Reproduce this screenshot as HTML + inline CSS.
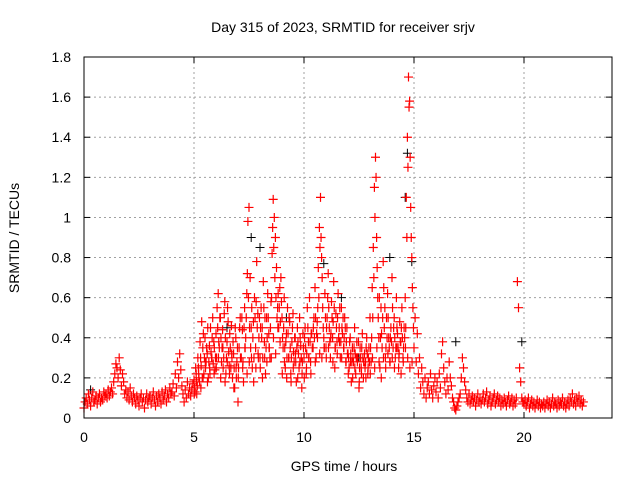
<!DOCTYPE html>
<html><head><meta charset="utf-8"><style>
body{margin:0;background:#fff}
svg text{font-family:"Liberation Sans",sans-serif;font-size:14px;fill:#000}
</style></head><body>
<svg id="chart" width="640" height="480">
<text x="343" y="32" text-anchor="middle">Day 315 of 2023, SRMTID for receiver srjv</text>
<text x="344" y="471" text-anchor="middle">GPS time / hours</text>
<text transform="translate(19,238) rotate(-90)" text-anchor="middle">SRMTID / TECUs</text>
<g id="grid"></g>
<g id="marks"></g>
<g id="axes"></g>
</svg>
<script>
const xTicks=[0,5,10,15,20];
const yTicks=[0,0.2,0.4,0.6,0.8,1,1.2,1.4,1.6,1.8];
const yTickLabels=["0","0.2","0.4","0.6","0.8","1","1.2","1.4","1.6","1.8"];
const redStart=0, redStep=0.05;
const redValues=[
0.05,0.08,0.1,0.07,0.12,0.09,0.06,0.1,0.13,0.08,0.09,0.11,0.07,0.1,0.12,0.08,0.1,0.09,0.13,0.11,
0.12,0.1,0.14,0.11,0.13,0.15,0.12,0.18,0.22,0.27,0.25,0.2,0.3,0.24,0.16,0.22,0.18,0.12,0.14,0.1,
0.13,0.09,0.15,0.11,0.08,0.12,0.1,0.07,0.11,0.09,0.06,0.1,0.12,0.08,0.1,0.05,0.09,0.12,0.08,0.1,
0.11,0.07,0.1,0.13,0.09,0.06,0.11,0.08,0.12,0.1,0.07,0.13,0.09,0.11,0.14,0.08,0.12,0.1,0.15,0.12,
0.13,0.17,0.11,0.22,0.15,0.28,0.2,0.32,0.24,0.16,0.12,0.08,0.14,0.1,0.18,0.12,0.15,0.11,0.14,0.17,
0.19,0.13,0.22,0.16,0.25,0.18,0.3,0.48,0.35,0.22,0.4,0.28,0.32,0.2,0.36,0.45,0.3,0.5,0.38,0.24,
0.42,0.55,0.62,0.35,0.5,0.28,0.44,0.3,0.58,0.22,0.38,0.48,0.26,0.35,0.46,0.2,0.32,0.15,0.4,0.28,
0.08,0.35,0.5,0.3,0.44,0.18,0.55,0.4,0.62,0.98,1.05,0.7,0.45,0.25,0.48,0.6,0.35,0.78,0.52,0.4,
0.3,0.55,0.45,0.68,0.38,0.22,0.5,0.62,0.42,0.3,0.58,0.82,1.09,1.0,0.9,0.75,0.55,0.45,0.65,0.7,
0.5,0.35,0.6,0.25,0.42,0.55,0.3,0.48,0.22,0.38,0.52,0.28,0.4,0.18,0.45,0.32,0.5,0.36,0.15,0.42,
0.3,0.45,0.22,0.55,0.38,0.6,0.28,0.42,0.35,0.5,0.65,0.3,0.48,0.75,0.95,1.1,0.8,0.55,0.4,0.62,
0.35,0.5,0.72,0.45,0.3,0.58,0.4,0.68,0.25,0.52,0.38,0.62,0.45,0.3,0.55,0.42,0.35,0.5,0.28,0.45,
0.32,0.25,0.4,0.18,0.35,0.28,0.45,0.22,0.38,0.3,0.15,0.35,0.25,0.42,0.2,0.32,0.28,0.4,0.22,0.35,
0.5,0.28,0.65,0.85,1.15,1.3,0.9,0.6,0.4,0.25,0.55,0.35,0.78,0.45,0.3,0.5,0.62,0.4,0.28,0.45,
0.7,0.35,0.5,0.3,0.6,0.42,0.25,0.48,0.38,0.55,0.3,0.45,0.6,1.1,1.4,1.7,1.58,1.05,0.8,0.55,
0.35,0.5,0.28,0.42,0.22,0.3,0.15,0.25,0.18,0.12,0.2,0.1,0.15,0.18,0.12,0.22,0.14,0.1,0.16,0.2,
0.13,0.18,0.1,0.22,0.15,0.32,0.38,0.25,0.18,0.12,0.2,0.14,0.28,0.2,0.16,0.1,0.08,0.05,0.04,0.06,
0.08,0.1,0.12,0.2,0.3,0.25,0.18,0.14,0.1,0.08,0.12,0.07,0.09,0.11,0.08,0.1,0.06,0.09,0.12,0.08,
0.1,0.07,0.09,0.12,0.08,0.1,0.13,0.07,0.09,0.11,0.06,0.08,0.1,0.12,0.07,0.09,0.11,0.08,0.1,0.06,
0.09,0.07,0.1,0.08,0.06,0.09,0.11,0.07,0.08,0.1,0.06,0.09,0.07,0.1,0.68,0.55,0.25,0.18,0.1,0.08,
0.07,0.09,0.06,0.08,0.1,0.05,0.07,0.09,0.06,0.08,0.05,0.07,0.09,0.06,0.08,0.05,0.07,0.06,0.08,0.05,
0.07,0.09,0.06,0.08,0.05,0.07,0.1,0.06,0.08,0.07,0.05,0.09,0.06,0.08,0.07,0.1,0.06,0.08,0.05,0.07,
0.09,0.06,0.1,0.08,0.12,0.07,0.09,0.06,0.1,0.08,0.11,0.07,0.09,0.06,0.08];
const redBStart=5.025, redBStep=0.05;
const redBValues=[
0.15,0.25,0.12,0.3,0.2,0.38,0.26,0.2,0.42,0.3,0.25,0.35,0.45,0.28,0.22,0.33,0.4,0.27,0.35,0.3,
0.3,0.45,0.38,0.5,0.4,0.35,0.25,0.52,0.4,0.3,0.55,0.33,0.42,0.25,0.3,0.38,0.25,0.45,0.2,0.35,
0.25,0.45,0.3,0.5,0.28,0.45,0.35,0.5,0.72,0.6,0.45,0.35,0.55,0.4,0.3,0.5,0.58,0.45,0.3,0.5,
0.45,0.4,0.3,0.55,0.5,0.35,0.4,0.5,0.35,0.45,0.6,0.95,0.85,0.7,0.6,0.5,0.62,0.55,0.48,0.58,
0.4,0.45,0.35,0.38,0.3,0.42,0.5,0.35,0.3,0.45,0.33,0.4,0.28,0.35,0.38,0.25,0.4,0.3,0.28,0.35,
0.4,0.35,0.32,0.45,0.3,0.38,0.42,0.35,0.45,0.4,0.5,0.42,0.55,0.6,0.85,0.9,0.7,0.45,0.35,0.5,
0.45,0.6,0.55,0.38,0.42,0.5,0.48,0.55,0.35,0.45,0.5,0.4,0.55,0.38,0.45,0.5,0.4,0.45,0.38,0.32,
0.3,0.38,0.32,0.28,0.3,0.35,0.32,0.3,0.28,0.38,0.25,0.3,0.35,0.3,0.28,0.25,0.35,0.32,0.3,0.28,
0.35,0.4,0.5,0.7,1.0,1.2,0.75,0.5,0.6,0.4,0.42,0.5,0.65,0.55,0.35,0.4,0.5,0.35,0.4,0.38,
0.55,0.45,0.4,0.35,0.45,0.35,0.32,0.38,0.45,0.4,0.35,0.4,0.45,0.9,1.25,1.55,1.3,0.9,0.65,0.45];
const redCStart=5.0125, redCStep=0.1;
const redCValues=[
0.12,0.18,0.22,0.15,0.2,0.28,0.18,0.25,0.3,0.22,
0.25,0.3,0.2,0.35,0.18,0.28,0.22,0.32,0.15,0.25,
0.2,0.3,0.25,0.35,0.22,0.28,0.3,0.18,0.25,0.32,
0.25,0.2,0.3,0.28,0.35,0.3,0.4,0.32,0.45,0.38,
0.22,0.28,0.2,0.3,0.18,0.25,0.32,0.2,0.28,0.22,
0.2,0.25,0.3,0.22,0.35,0.28,0.4,0.32,0.3,0.35,
0.3,0.35,0.4,0.28,0.35,0.32,0.38,0.3,0.35,0.28,
0.22,0.28,0.2,0.25,0.3,0.18,0.22,0.28,0.2,0.25,
0.22,0.3,0.25,0.35,0.28,0.2,0.3,0.25,0.32,0.28,
0.3,0.25,0.35,0.3,0.22,0.28,0.35,0.3,0.25,0.28];
const blackTimes=[0.3,6.5,7.6,8.0,9.2,10.9,11.7,12.5,13.9,14.6,14.7,14.9,16.9,19.9];
const blackValues=[0.14,0.45,0.9,0.85,0.5,0.77,0.6,0.3,0.8,1.1,1.32,0.78,0.38,0.38];

const L=84,R=612,T=57,B=418,XMAX=24,YMAX=1.8;
function sx(v){return L+(R-L)*v/XMAX;}
function sy(v){return B-(B-T)*v/YMAX;}
const NS='http://www.w3.org/2000/svg';
function mk(tag,attrs,parent){const e=document.createElementNS(NS,tag);for(const k in attrs)e.setAttribute(k,attrs[k]);parent.appendChild(e);return e;}
const grid=document.getElementById('grid'),axes=document.getElementById('axes'),marks=document.getElementById('marks');
xTicks.forEach(t=>{
  const x=sx(t);
  if(t>0){const g=mk('line',{x1:x,x2:x,y1:T,y2:B,stroke:'#a0a0a0','stroke-dasharray':'2,3'},grid);
  
  }
  mk('line',{x1:x,x2:x,y1:B,y2:B-6,stroke:'#000'},axes);
  mk('line',{x1:x,x2:x,y1:T,y2:T+6,stroke:'#000'},axes);
  const tx=mk('text',{x:x,y:B+24,'text-anchor':'middle'},axes);tx.textContent=t;
  
  
});
yTicks.forEach((t,i)=>{
  const y=sy(t);
  if(t>0&&t<YMAX){const g=mk('line',{x1:L,x2:R,y1:y,y2:y,stroke:'#a0a0a0','stroke-dasharray':'2,3'},grid);
  
  }
  mk('line',{x1:L,x2:L+6,y1:y,y2:y,stroke:'#000'},axes);
  mk('line',{x1:R,x2:R-6,y1:y,y2:y,stroke:'#000'},axes);
  const tx=mk('text',{x:L-13,y:y+5,'text-anchor':'end'},axes);tx.textContent=yTickLabels[i];
  
  
});
const fr=mk('rect',{x:L,y:T,width:R-L,height:B-T,fill:'none',stroke:'#000'},axes);


function plus(x,y){return 'M'+(x-4.5)+' '+y+'h9M'+x+' '+(y-4.5)+'v9';}
let dB='';
blackTimes.forEach((t,i)=>{dB+=plus(sx(t),sy(blackValues[i]));});
let dR='';
redValues.forEach((v,i)=>{dR+=plus(sx(redStart+i*redStep),sy(v));});
redBValues.forEach((v,i)=>{dR+=plus(sx(redBStart+i*redBStep),sy(v));});
redCValues.forEach((v,i)=>{dR+=plus(sx(redCStart+i*redCStep),sy(v));});
const pb=mk('path',{d:dB,stroke:'#000','stroke-width':1,fill:'none'},marks);


const pr=mk('path',{d:dR,stroke:'#ff0000','stroke-width':1.2,fill:'none'},marks);


</script>
</body></html>
